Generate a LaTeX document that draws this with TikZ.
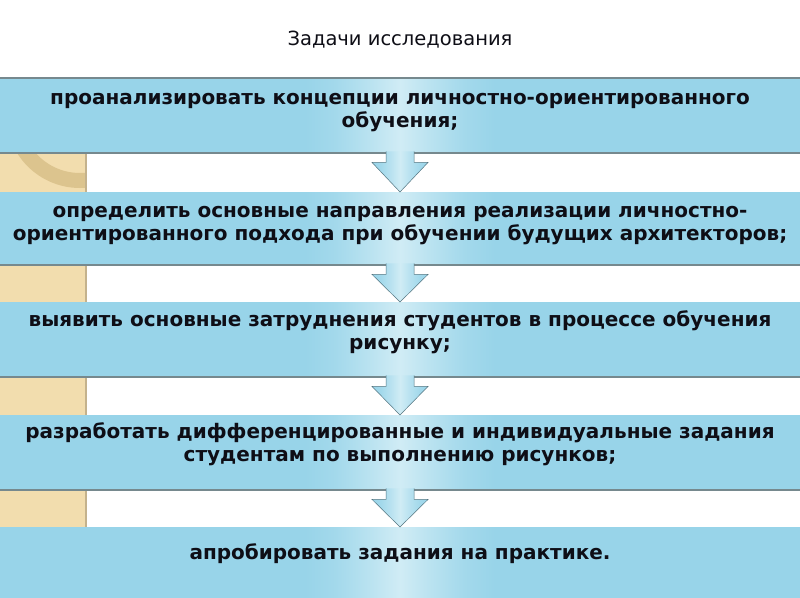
\documentclass[tikz,border=0pt]{standalone}
\usepackage{fontspec}
\setmainfont{DejaVu Sans}
\usepackage{xcolor}
\usepackage{tikz}
\usetikzlibrary{calc,positioning}
\definecolor{sky}{HTML}{98D4E9}
\definecolor{skylight}{HTML}{D0ECF5}
\colorlet{skyA}{sky!80!skylight}
\colorlet{skyB}{sky!40!skylight}
\definecolor{rule}{HTML}{76898E}
\definecolor{sand}{HTML}{F2DDAE}
\definecolor{sandedge}{HTML}{C4B28C}
\definecolor{ring}{HTML}{DCC48E}
\definecolor{ink}{HTML}{0E0E16}
\pgfdeclarehorizontalshading{glowband}{100bp}{color(0bp)=(sky); color(25bp)=(sky);
  color(33bp)=(skyA); color(42bp)=(skyB); color(50bp)=(skylight);
  color(58bp)=(skyB); color(67bp)=(skyA); color(75bp)=(sky); color(100bp)=(sky)}
\tikzset{
  band/.style={fill=sky, draw=none, minimum width=800pt, inner sep=0pt, anchor=north},
  task/.style={text=ink, font=\bfseries\fontsize{20}{23}\selectfont, align=center},
  glow/.style={shading=glowband, draw=none},
  sep/.style={draw=rule, line width=2pt},
  flow/.style={shading=glowband, draw=sky!55!black, line width=0.5pt},
  lab/.style={text=ink}
}
\begin{document}
\begin{tikzpicture}[x=1pt,y=-1pt]
  \useasboundingbox (0,0) rectangle (800,597);
  \fill[white] (0,0) rectangle (800,597);
  \node[lab, font=\fontsize{19.5}{22}\selectfont] (title) at (400,40) {Задачи исследования};

  % bands
  \node[band, minimum height=75pt] (b1) at (400,78) {};
  \node[band, minimum height=73pt] (b2) at (400,192) {};
  \node[band, minimum height=75pt] (b3) at (400,302) {};
  \node[band, minimum height=75pt] (b4) at (400,415) {};
  \node[band, minimum height=74pt] (b5) at (400,527) {};

  % light column through the bands
  \foreach \b in {b1,b2,b3,b4,b5}
    \shade[glow] ([xshift=-95pt]\b.north) rectangle ([xshift=95pt]\b.south);

  % sand strip in the gaps
  \foreach \a/\b in {b1/b2,b2/b3,b3/b4,b4/b5} {
    \fill[sand] (\a.south west) rectangle ([xshift=86pt]\b.north west);
    \draw[sandedge, line width=1.5pt] ([xshift=86pt]\a.south west) -- ([xshift=86pt]\b.north west);
  }
  \begin{scope}
    \clip (b1.south west) rectangle ([xshift=85pt]b2.north west);
    \draw[ring, line width=15pt] (80,114) circle (66.5);
  \end{scope}

  % shadow lines
  \draw[sep] (b1.north west) -- (b1.north east);
  \foreach \a in {b1,b2,b3,b4}
    \draw[sep] (\a.south west) -- (\a.south east);

  % arrows
  \foreach \a/\b in {b1/b2,b2/b3,b3/b4,b4/b5}
    \path[flow] ([xshift=-14pt,yshift=2pt]\a.south) -- ([xshift=-14pt,yshift=-9pt]\a.south)
      -- ([xshift=-28pt,yshift=-9pt]\a.south) -- (\b.north)
      -- ([xshift=28pt,yshift=-9pt]\a.south) -- ([xshift=14pt,yshift=-9pt]\a.south)
      -- ([xshift=14pt,yshift=2pt]\a.south);

  % texts
  \node[task] (t1) at ([yshift=3pt]b1.center) {проанализировать концепции личностно-ориентированного\\обучения;};
  \node[task] (t2) at ([yshift=3pt]b2.center) {определить основные направления реализации личностно-\\ориентированного подхода при обучении будущих архитекторов;};
  \node[task] (t3) at ([yshift=7pt]b3.center) {выявить основные затруднения студентов в процессе обучения\\рисунку;};
  \node[task] (t4) at ([yshift=8pt]b4.center) {разработать дифференцированные и индивидуальные задания\\студентам по выполнению рисунков;};
  \node[task] (t5) at ([yshift=11pt]b5.center) {апробировать задания на практике.};
\end{tikzpicture}
\end{document}
